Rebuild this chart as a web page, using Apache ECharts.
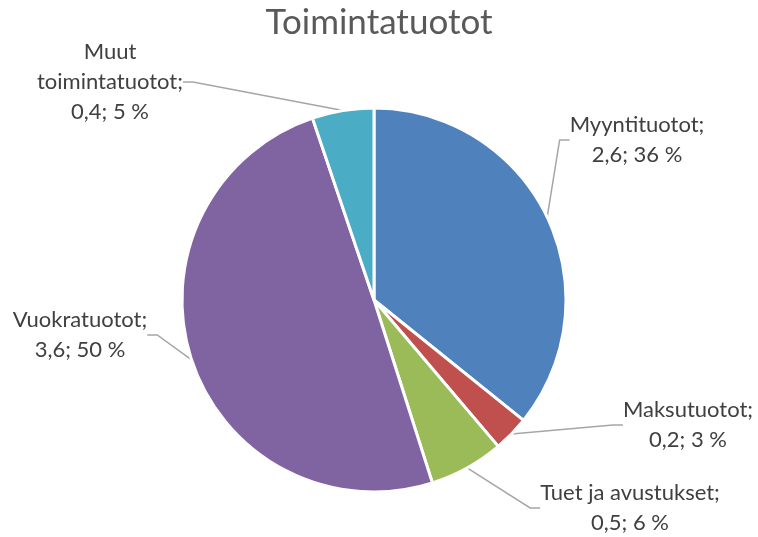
<!DOCTYPE html>
<html>
<head>
<meta charset="utf-8">
<script src="https://cdn.jsdelivr.net/npm/echarts@6/dist/echarts.min.js"></script>
<style>
  html, body { margin: 0; padding: 0; background: #fff; }
  #main { width: 758px; height: 537px; }
</style>
</head>
<body>
<div id="main"></div>
<script>
var categories = ['Myyntituotot', 'Maksutuotot', 'Tuet ja avustukset', 'Vuokratuotot', 'Muut toimintatuotot'];
var values = [2.62, 0.22, 0.46, 3.64, 0.38];
var colors = ['#4F81BD', '#C0504D', '#9BBB59', '#8064A2', '#4BACC6'];

// label centres, Excel style placement
var labelPos = [[637, 140], [688, 425], [630, 508], [80, 335], [110, 82]];

var myChart = echarts.init(document.getElementById('main'));

option = {
    backgroundColor: '#fff',
    color: colors,
    title: {
        text: 'Toimintatuotot',
        left: 'center',
        top: 0,
        textStyle: {
            fontFamily: 'Lato',
            fontSize: 35,
            fontWeight: 'normal',
            color: '#595959'
        }
    },
    series: [{
        type: 'pie',
        center: [374, 300],
        radius: 192,
        startAngle: 90,
        clockwise: true,
        animation: false,
        itemStyle: {
            borderColor: '#fff',
            borderWidth: 3
        },
        label: {
            position: 'outside',
            fontFamily: 'Lato',
            fontSize: 22,
            lineHeight: 30,
            color: '#404040',
            align: 'center',
            formatter: function (p) {
                var name = p.name.replace('Muut ', 'Muut\n');
                return name + ';\n' + p.value.toFixed(1).replace('.', ',') + '; ' + Math.round(p.percent) + ' %';
            }
        },
        labelLine: {
            show: true,
            length: 10,
            length2: 10,
            lineStyle: { color: '#A6A6A6', width: 1.5 }
        },
        labelLayout: function (params) {
            var pos = labelPos[params.dataIndex];
            return {
                x: pos[0],
                y: pos[1],
                align: 'center',
                verticalAlign: 'middle'
            };
        },
        data: categories.map(function (c, i) {
            return { name: c, value: values[i] };
        })
    }]
};
myChart.setOption(option);
</script>
</body>
</html>
